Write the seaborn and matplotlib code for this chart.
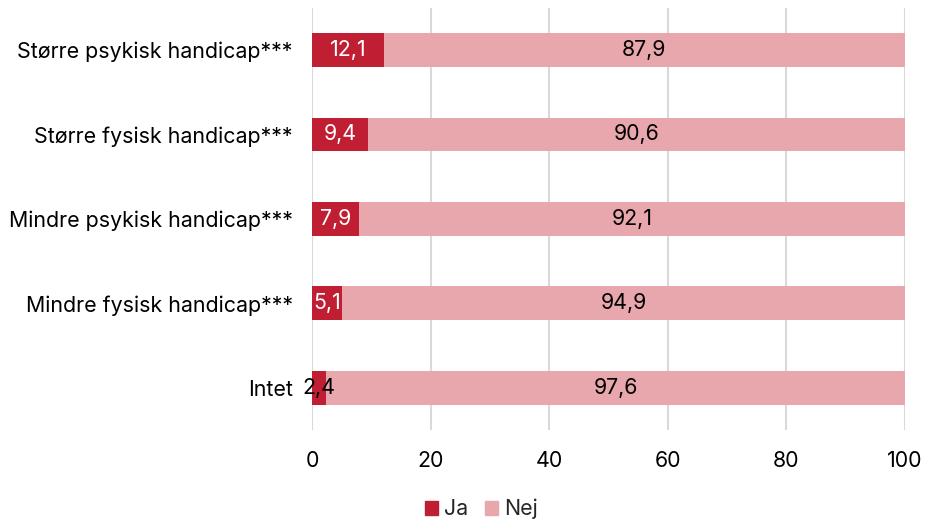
import matplotlib
matplotlib.use("Agg")
import matplotlib.pyplot as plt
from matplotlib.patches import Patch
import seaborn as sns
import pandas as pd

categories = [
    "Større psykisk handicap***",
    "Større fysisk handicap***",
    "Mindre psykisk handicap***",
    "Mindre fysisk handicap***",
    "Intet",
]
ja = [12.1, 9.4, 7.9, 5.1, 2.4]
nej = [87.9, 90.6, 92.1, 94.9, 97.6]
x_ticks = [0, 20, 40, 60, 80, 100]

COL_JA = "#C01F33"
COL_NEJ = "#E8A7AD"
FS = 15.4

sns.set_theme(style="white")
plt.rcParams["font.family"] = ["Inter", "DejaVu Sans"]

df = pd.DataFrame({"kategori": categories, "Ja": ja, "Nej": nej})
df["total"] = df["Ja"] + df["Nej"]

fig = plt.figure(figsize=(9.26, 5.2), dpi=100)
ax = fig.add_axes([0.337, 0.173, 0.64, 0.812])

# stacked bars: full (Ja + Nej) underneath, Ja on top
sns.barplot(data=df, y="kategori", x="total", color=COL_NEJ, orient="h",
            width=0.4, ax=ax, saturation=1, zorder=2, linewidth=0)
sns.barplot(data=df, y="kategori", x="Ja", color=COL_JA, orient="h",
            width=0.4, ax=ax, saturation=1, zorder=3, linewidth=0)

fmt = lambda v: f"{v:.1f}".replace(".", ",")
for i, (j, n) in enumerate(zip(ja, nej)):
    ax.text(j / 2, i, fmt(j), ha="center", va="center", fontsize=FS,
            color="white" if j > 4 else "black", zorder=4)
    ax.text(j + n / 2, i, fmt(n), ha="center", va="center", fontsize=FS,
            color="black", zorder=4)

ax.set_xlim(0, 100)
ax.set_ylim(4.5, -0.5)
ax.set_xticks(x_ticks)
ax.set_xticklabels([str(t) for t in x_ticks])
ax.xaxis.grid(True, color="#D9D9D9", linewidth=1.5, zorder=0)
ax.set_axisbelow(True)
for s in ax.spines.values():
    s.set_visible(False)
ax.set_xlabel("")
ax.set_ylabel("")
ax.tick_params(axis="both", length=0, labelsize=FS, colors="black")
ax.tick_params(axis="x", pad=15)
ax.tick_params(axis="y", pad=14)

handles = [Patch(color=COL_JA, label="Ja"), Patch(color=COL_NEJ, label="Nej")]
fig.legend(handles=handles, loc="lower center", bbox_to_anchor=(0.52, -0.036),
           ncol=2, frameon=False, fontsize=FS, handlelength=0.6,
           handleheight=0.6, handletextpad=0.3, columnspacing=0.8)

fig.savefig("out.png", dpi=100)
